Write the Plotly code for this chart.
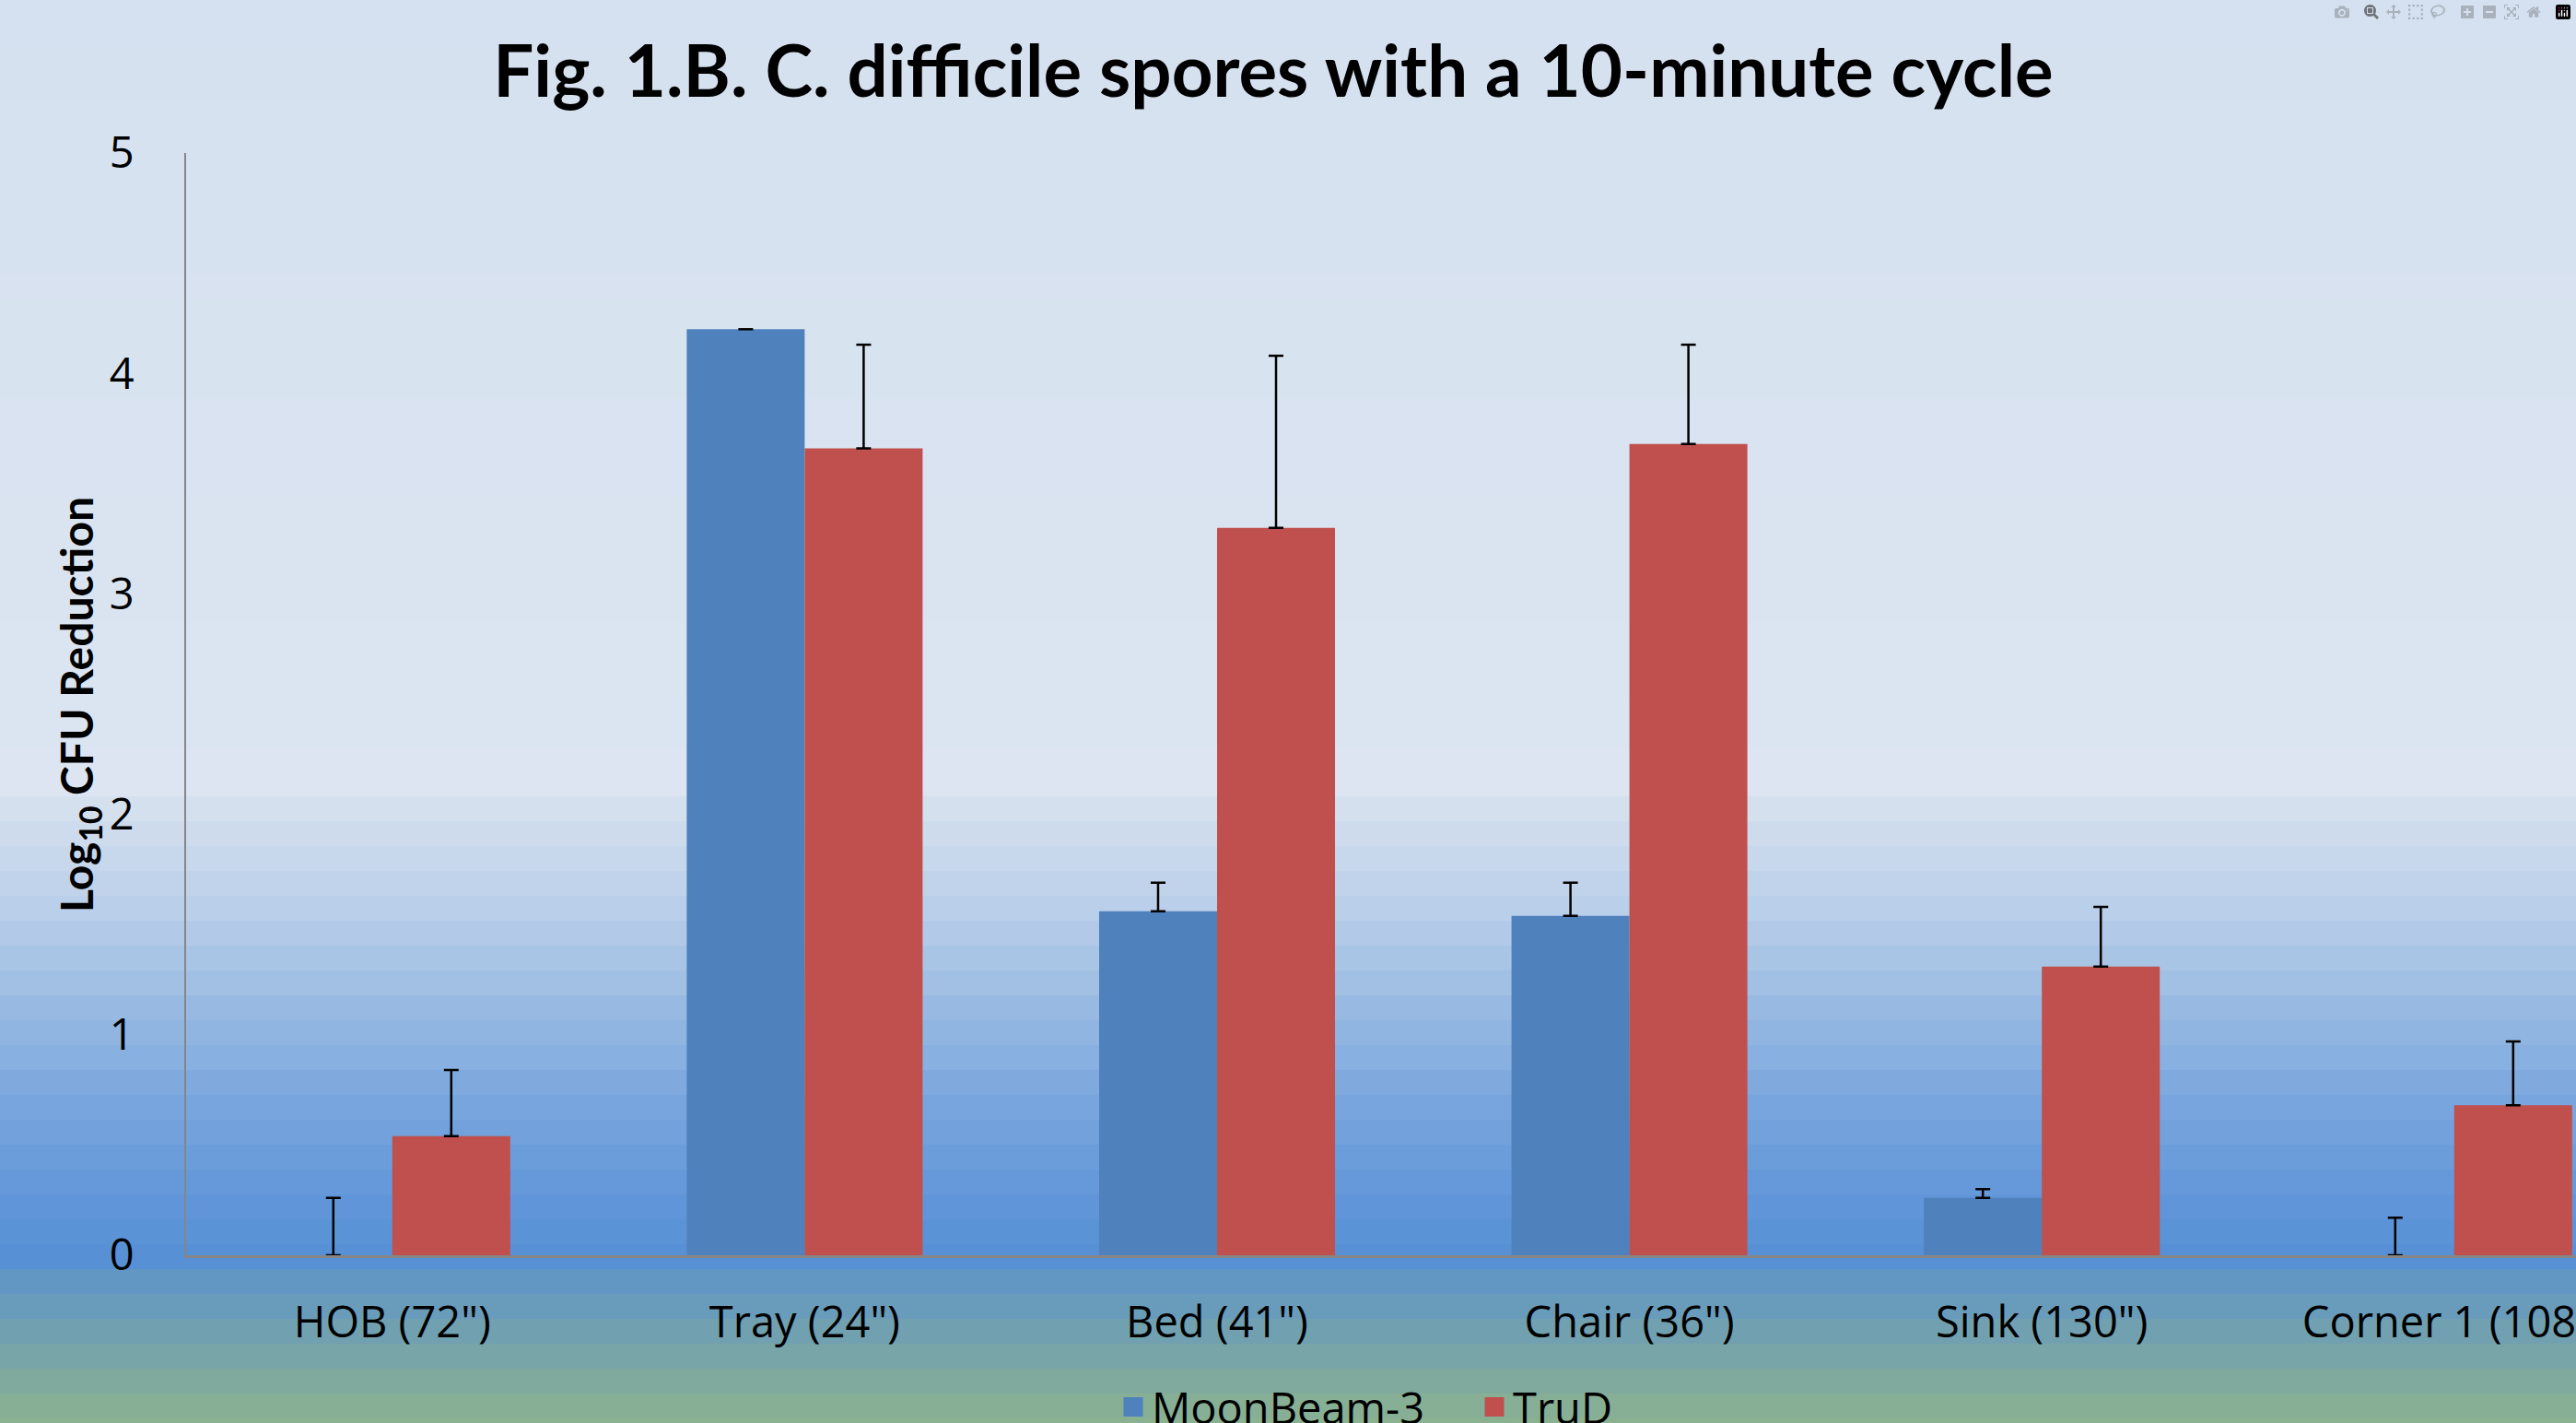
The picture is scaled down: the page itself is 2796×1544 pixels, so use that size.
import plotly.graph_objects as go

# ---------------- data ----------------
categories = ['HOB (72")', 'Tray (24")', 'Bed (41")', 'Chair (36")', 'Sink (130")', 'Corner 1 (108")']
moonbeam = [0.0, 4.20, 1.56, 1.54, 0.26, 0.0]
moonbeam_err = [0.26, 0.0, 0.13, 0.15, 0.04, 0.17]
trud = [0.54, 3.66, 3.30, 3.68, 1.31, 0.68]
trud_err = [0.30, 0.47, 0.78, 0.45, 0.27, 0.29]
series_names = ["MoonBeam-3", "TruD"]
series_colors = ["#4F81BD", "#C0504D"]
y_ticks = [0, 1, 2, 3, 4, 5]

# ---------------- layout geometry ----------------
W, H = 2796, 1544
ML, MR, MT, MB = 202, 0, 166, 182
PH = H - MT - MB
PW = W - ML - MR
CAT_PX = 447.6  # pixel width of one category slot


def py(ypx):
    return (H - MB - ypx) / PH


# background gradient stops (pixel y -> rgb)
stops = [
    (0, (213, 225, 240)), (860, (220, 229, 241)), (880, (212, 223, 238)),
    (1000, (182, 205, 233)), (1100, (150, 185, 226)), (1200, (120, 165, 221)),
    (1290, (100, 152, 218)), (1372, (85, 143, 212)), (1385, (96, 150, 198)),
    (1440, (112, 160, 178)), (1500, (128, 170, 158)), (1544, (140, 178, 143)),
]


def color_at(y):
    for (y0, c0), (y1, c1) in zip(stops[:-1], stops[1:]):
        if y0 <= y <= y1:
            t = (y - y0) / (y1 - y0) if y1 > y0 else 0
            return tuple(round(a + (b - a) * t) for a, b in zip(c0, c1))
    return stops[-1][1]


shapes = []
band = 27
y = 0
while y < H:
    yb = min(y + band, H)
    c = color_at((y + yb) / 2)
    shapes.append(dict(type="rect", xref="paper", yref="paper", layer="below",
                       x0=-0.1, x1=1.05, y0=py(yb + 1), y1=py(y),
                       fillcolor="rgb(%d,%d,%d)" % c, line=dict(width=0)))
    y = yb

err_style = dict(type="data", symmetric=False, color="black", thickness=2.5, width=8)

fig = go.Figure()
for name, color, vals, errs in [(series_names[0], series_colors[0], moonbeam, moonbeam_err),
                                (series_names[1], series_colors[1], trud, trud_err)]:
    fig.add_trace(go.Bar(
        x=categories, y=vals, name=name, marker_color=color, marker_line_width=0,
        showlegend=False, legendgroup=name,
        error_y=dict(array=errs, arrayminus=[0] * len(vals), **err_style),
    ))
# legend entries (larger square swatches)
for name, color in zip(series_names, series_colors):
    fig.add_trace(go.Scatter(
        x=[None], y=[None], mode="markers", name=name, legendgroup=name,
        marker=dict(symbol="square", size=16, color=color,
                    line=dict(color=color, width=5)),
    ))

tick_font = dict(family="Open Sans", size=47, color="black")

fig.update_layout(
    width=W, height=H,
    margin=dict(l=ML, r=MR, t=MT, b=MB, pad=0, autoexpand=False),
    paper_bgcolor="rgb(213,225,240)",
    plot_bgcolor="rgba(0,0,0,0)",
    barmode="group", bargap=0.428, bargroupgap=0,
    shapes=shapes,
    title=dict(text="Fig. 1.B. C. difficile spores with a 10-minute cycle",
               font=dict(family="Lato", size=78, color="black", weight="bold"),
               x=1382 / W, xanchor="center", y=1 - 78 / H, yanchor="middle"),
    xaxis=dict(range=[-0.5, -0.5 + PW / CAT_PX], showline=True, linecolor="#868686",
               linewidth=3, ticks="", showgrid=False, zeroline=False, automargin=False,
               tickfont=tick_font, ticklabelstandoff=30),
    yaxis=dict(range=[0, 5], tickvals=y_ticks, showline=True, linecolor="#868686",
               linewidth=2, ticks="", showgrid=False, zeroline=False, automargin=False,
               tickfont=tick_font, ticklabelstandoff=45),
    legend=dict(orientation="h", x=(1210 - ML) / PW, xanchor="left",
                y=py(1527), yanchor="middle", font=tick_font, itemsizing="trace",
                bgcolor="rgba(0,0,0,0)", itemwidth=30, entrywidth=347),
    annotations=[dict(text="Log<sub>10</sub> CFU Reduction", xref="paper", yref="paper",
                      x=(86 - ML) / PW, y=py(765), xanchor="center", yanchor="middle",
                      textangle=-90, showarrow=False,
                      font=dict(family="Lato", size=48, color="black", weight="bold"))],
)

fig.write_html("out.html",
               post_script="document.body.style.margin='0';document.body.style.overflow='hidden';")
